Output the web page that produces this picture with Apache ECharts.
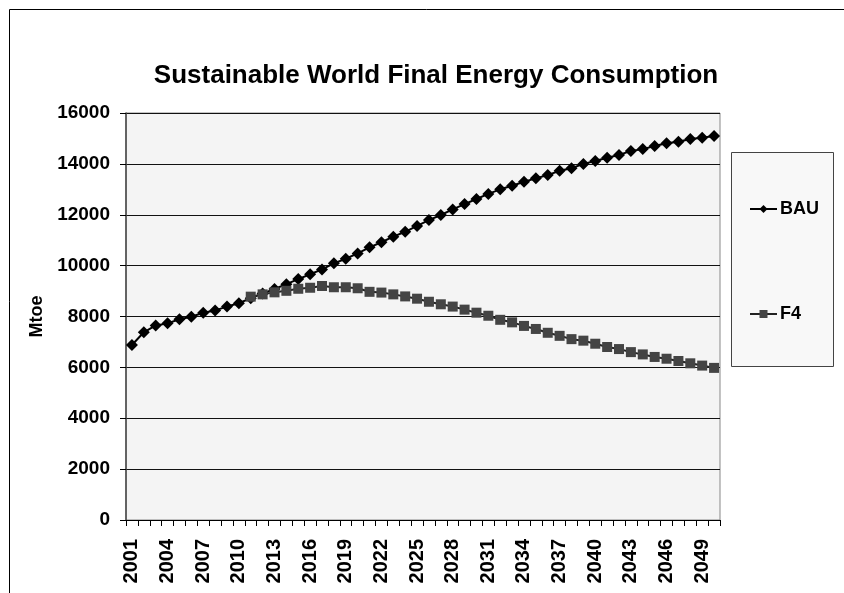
<!DOCTYPE html>
<html>
<head>
<meta charset="utf-8">
<script src="https://cdn.jsdelivr.net/npm/echarts@6/dist/echarts.min.js"></script>
<style>html,body{margin:0;padding:0;background:#fff;}#c{width:844px;height:593px;}</style>
</head>
<body>
<div id="c"></div>
<script>
var years = ['2001','2002','2003','2004','2005','2006','2007','2008','2009','2010',
'2011','2012','2013','2014','2015','2016','2017','2018','2019','2020',
'2021','2022','2023','2024','2025','2026','2027','2028','2029','2030',
'2031','2032','2033','2034','2035','2036','2037','2038','2039','2040',
'2041','2042','2043','2044','2045','2046','2047','2048','2049','2050'];

var bau = [6880,7380,7650,7730,7890,7990,8150,8240,8390,8520,
8720,8900,9080,9270,9470,9660,9850,10090,10270,10480,
10720,10920,11140,11330,11560,11790,11990,12210,12420,12620,
12820,13000,13140,13300,13430,13560,13730,13830,14000,14110,
14240,14350,14510,14580,14700,14810,14870,14980,15030,15100];

var f4 = [null,null,null,null,null,null,null,null,null,null,
8780,8870,8950,9010,9090,9130,9200,9150,9150,9110,
8970,8940,8870,8790,8700,8580,8480,8390,8270,8150,
8030,7870,7770,7630,7510,7360,7240,7110,7050,6930,
6800,6720,6600,6510,6410,6340,6250,6160,6070,5980];

var yTicks = [0,2000,4000,6000,8000,10000,12000,14000,16000];

var FONT = 'Liberation Sans, Arial, sans-serif';
var chart = echarts.init(document.getElementById('c'));
chart.setOption({
  animation: false,
  backgroundColor: '#ffffff',
  title: {
    text: 'Sustainable World Final Energy Consumption',
    left: 431, top: 58, textAlign: 'center',
    textStyle: {fontFamily: FONT, fontSize: 26, fontWeight: 'bold', color: '#000'}
  },
  graphic: [
    {type: 'line', shape: {x1: 9.5, y1: 9.5, x2: 844, y2: 9.5}, style: {stroke: '#000', lineWidth: 1}},
    {type: 'line', shape: {x1: 9.5, y1: 9.5, x2: 9.5, y2: 593}, style: {stroke: '#000', lineWidth: 1}},
    {type: 'rect', shape: {x: 731.5, y: 152.5, width: 102, height: 214}, style: {fill: '#f8f8f8', stroke: '#444', lineWidth: 1}, z: 0}
  ],
  legend: {
    data: ['BAU', 'F4'],
    orient: 'vertical',
    left: 744, top: 195,
    itemGap: 87,
    itemWidth: 27, itemHeight: 10,
    textStyle: {fontFamily: FONT, fontSize: 18, fontWeight: 'bold', color: '#000', padding: [0, 0, 0, -2]},
    z: 10
  },
  grid: {
    left: 126, top: 113, right: 124, bottom: 73,
    show: true, backgroundColor: '#f4f4f4', borderColor: '#888', borderWidth: 1
  },
  xAxis: {
    type: 'category',
    data: years,
    boundaryGap: true,
    axisLine: {lineStyle: {color: '#000', width: 1}},
    axisTick: {show: true, interval: 0, length: 6, lineStyle: {color: '#000'}},
    axisLabel: {interval: 2, rotate: 90, margin: 19, fontFamily: FONT, fontSize: 20, fontWeight: 'bold', color: '#000'},
    splitLine: {show: false}
  },
  yAxis: {
    type: 'value',
    min: yTicks[0], max: yTicks[yTicks.length - 1], interval: 2000,
    name: 'Mtoe',
    nameLocation: 'middle',
    nameGap: 80,
    nameRotate: 90,
    nameTextStyle: {fontFamily: FONT, fontSize: 18, fontWeight: 'bold', color: '#000'},
    axisLine: {show: true, lineStyle: {color: '#444', width: 1.5}},
    axisTick: {show: true, length: 6, lineStyle: {color: '#000'}},
    axisLabel: {margin: 16, fontFamily: FONT, fontSize: 19, fontWeight: 'bold', color: '#000',
      formatter: function (v) { return String(v); }},
    splitLine: {show: true, lineStyle: {color: '#111', width: 1}}
  },
  series: [
    {
      name: 'BAU', type: 'line', data: bau,
      symbol: 'diamond', symbolSize: 12, showAllSymbol: true,
      itemStyle: {color: '#000'},
      lineStyle: {color: '#000', width: 2},
      z: 3
    },
    {
      name: 'F4', type: 'line', data: f4,
      symbol: 'rect', symbolSize: 10, showAllSymbol: true,
      itemStyle: {color: '#444'},
      lineStyle: {color: '#222', width: 2},
      z: 4
    }
  ]
});
</script>
</body>
</html>
